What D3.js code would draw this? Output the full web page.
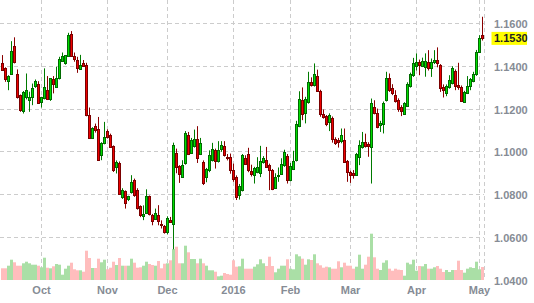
<!DOCTYPE html>
<html>
<head>
<meta charset="utf-8">
<script src="https://cdn.jsdelivr.net/npm/d3@7"></script>
<style>
html,body{margin:0;padding:0;background:#fff;}
svg{display:block;}
text{font-family:"Liberation Sans",Arial,sans-serif;font-weight:bold;}
</style>
</head>
<body>
<svg id="chart" width="534" height="303"></svg>
<script>
// ---- data (trading days, mid-Sep 2015 to 3 May 2016) ----
const openP = [1.1413,1.1390,1.1332,1.1362,1.1494,1.1363,1.1265,1.1192,1.1254,1.1242,
1.1254,1.1307,1.1319,1.1235,1.1251,1.1288,1.1246,1.1338,1.1301,1.1343,
1.1425,1.1416,1.1447,1.1550,1.1447,1.1429,1.1388,1.1416,1.1404,1.1171,
1.1067,1.1120,1.1109,1.0984,1.1042,1.1096,1.1078,1.1026,1.0927,1.0949,
1.0787,1.0816,1.0780,1.0813,1.0867,1.0824,1.0746,1.0701,1.0715,1.0792,
1.0704,1.0688,1.0707,1.0665,1.0654,1.0626,1.0683,1.0665,1.0995,1.0933,
1.0883,1.0948,1.1081,1.0995,1.1026,1.1058,1.0989,1.0953,1.0883,1.0914,
1.0961,1.1008,1.0958,1.1011,1.1026,1.0976,1.0976,1.0914,1.0883,1.0798,
1.0821,1.0972,1.0992,1.0909,1.0894,1.0906,1.0902,1.0953,1.0961,1.0937,
1.0914,1.0833,1.0886,1.0898,1.0937,1.0980,1.0867,1.0922,1.0961,1.1120,
1.1241,1.1182,1.1234,1.1324,1.1312,1.1354,1.1284,1.1179,1.1167,1.1140,
1.1156,1.1062,1.1054,1.1050,1.1054,1.0958,1.0906,1.0903,1.0894,1.0977,
1.1023,1.1047,1.1039,1.1023,1.1210,1.1182,1.1125,1.1132,1.1242,1.1343,
1.1296,1.1265,1.1242,1.1210,1.1179,1.1215,1.1309,1.1358,1.1400,1.1418,
1.1400,1.1397,1.1420,1.1390,1.1420,1.1428,1.1405,1.1304,1.1273,1.1304,
1.1322,1.1378,1.1312,1.1301,1.1234,1.1276,1.1307,1.1332,1.1363,1.1468,
1.1545];
const highP = [1.1452,1.1395,1.1358,1.1517,1.1535,1.1385,1.1268,1.1284,1.1366,1.1281,
1.1319,1.1338,1.1330,1.1257,1.1390,1.1354,1.1343,1.1354,1.1397,1.1444,
1.1464,1.1452,1.1556,1.1564,1.1464,1.1444,1.1453,1.1429,1.1416,1.1207,
1.1115,1.1132,1.1163,1.1045,1.1140,1.1105,1.1085,1.1030,1.0960,1.0955,
1.0830,1.0820,1.0795,1.0891,1.0875,1.0830,1.0750,1.0750,1.0825,1.0796,
1.0710,1.0735,1.0751,1.0680,1.0658,1.0699,1.0696,1.1043,1.1015,1.0938,
1.0961,1.1097,1.1093,1.1065,1.1104,1.1120,1.1065,1.0960,1.0925,1.1007,
1.1042,1.1015,1.1050,1.1050,1.1050,1.0990,1.0992,1.0945,1.0890,1.0850,
1.0990,1.0984,1.1019,1.0940,1.0930,1.0975,1.1028,1.0980,1.1023,1.0945,
1.0920,1.0900,1.0927,1.0970,1.1010,1.0990,1.0948,1.1005,1.1145,1.1283,
1.1301,1.1257,1.1374,1.1348,1.1413,1.1384,1.1290,1.1198,1.1172,1.1180,
1.1165,1.1068,1.1065,1.1109,1.1109,1.0962,1.0912,1.0915,1.0995,1.1054,
1.1093,1.1085,1.1045,1.1249,1.1241,1.1202,1.1145,1.1235,1.1374,1.1366,
1.1316,1.1288,1.1250,1.1218,1.1232,1.1325,1.1370,1.1439,1.1460,1.1431,
1.1440,1.1460,1.1475,1.1436,1.1475,1.1488,1.1410,1.1315,1.1315,1.1358,
1.1400,1.1385,1.1416,1.1310,1.1285,1.1354,1.1345,1.1374,1.1476,1.1545,
1.1631];
const lowP = [1.1379,1.1327,1.1288,1.1360,1.1413,1.1249,1.1187,1.1179,1.1245,1.1187,
1.1218,1.1299,1.1226,1.1207,1.1245,1.1242,1.1238,1.1273,1.1299,1.1338,
1.1421,1.1407,1.1444,1.1444,1.1421,1.1369,1.1385,1.1397,1.1166,1.1062,
1.1060,1.1090,1.0958,1.0961,1.1035,1.1062,1.1020,1.0906,1.0899,1.0800,
1.0780,1.0735,1.0770,1.0805,1.0790,1.0730,1.0695,1.0681,1.0710,1.0703,
1.0657,1.0684,1.0657,1.0642,1.0618,1.0615,1.0668,1.0545,1.0900,1.0855,
1.0880,1.0940,1.0985,1.0990,1.1020,1.0948,1.0985,1.0845,1.0858,1.0905,
1.0955,1.0922,1.0950,1.1000,1.0978,1.0960,1.0898,1.0860,1.0775,1.0777,
1.0815,1.0940,1.0905,1.0885,1.0852,1.0900,1.0882,1.0945,1.0955,1.0821,
1.0821,1.0828,1.0860,1.0893,1.0930,1.0852,1.0862,1.0915,1.0955,1.1115,
1.1148,1.1133,1.1225,1.1305,1.1305,1.1280,1.1164,1.1155,1.1120,1.1097,
1.1043,1.1032,1.1020,1.1040,1.0950,1.0860,1.0855,1.0875,1.0890,1.0938,
1.1015,1.1020,1.0977,1.0852,1.1175,1.1110,1.1093,1.1086,1.1235,1.1280,
1.1265,1.1230,1.1187,1.1167,1.1179,1.1210,1.1300,1.1350,1.1380,1.1358,
1.1396,1.1351,1.1380,1.1350,1.1410,1.1395,1.1280,1.1254,1.1260,1.1295,
1.1315,1.1288,1.1290,1.1233,1.1232,1.1270,1.1288,1.1325,1.1355,1.1462,
1.1520];
const closeP = [1.1382,1.1338,1.1354,1.1471,1.1421,1.1257,1.1195,1.1281,1.1291,1.1257,
1.1299,1.1330,1.1229,1.1254,1.1301,1.1245,1.1343,1.1315,1.1343,1.1436,
1.1447,1.1452,1.1545,1.1447,1.1433,1.1390,1.1404,1.1402,1.1171,1.1067,
1.1111,1.1101,1.0961,1.1042,1.1070,1.1070,1.1023,1.0917,1.0953,1.0805,
1.0821,1.0763,1.0792,1.0860,1.0797,1.0738,1.0707,1.0710,1.0796,1.0711,
1.0677,1.0716,1.0677,1.0656,1.0626,1.0691,1.0673,1.1031,1.0930,1.0895,
1.0938,1.1089,1.0992,1.1054,1.1058,1.0972,1.1042,1.0855,1.0922,1.0984,
1.1011,1.0958,1.1008,1.1031,1.0984,1.0969,1.0914,1.0871,1.0790,1.0839,
1.0984,1.0945,1.0914,1.0898,1.0925,1.0930,1.0956,1.0972,1.0930,1.0917,
1.0828,1.0883,1.0894,1.0945,1.0999,1.0867,1.0933,1.0956,1.1132,1.1249,
1.1179,1.1249,1.1324,1.1312,1.1363,1.1285,1.1175,1.1164,1.1129,1.1171,
1.1058,1.1042,1.1047,1.1078,1.0953,1.0906,1.0894,1.0894,1.0988,1.1031,
1.1047,1.1028,1.1026,1.1229,1.1182,1.1117,1.1137,1.1226,1.1346,1.1288,
1.1273,1.1238,1.1200,1.1192,1.1226,1.1319,1.1362,1.1413,1.1421,1.1405,
1.1425,1.1425,1.1394,1.1420,1.1431,1.1413,1.1296,1.1291,1.1307,1.1335,
1.1394,1.1307,1.1304,1.1238,1.1280,1.1307,1.1338,1.1363,1.1468,1.1534,
1.1530];
const volume = [11.7,11.7,14.3,20.3,17.7,14.3,14.3,16.7,18.3,16.7,
15.3,15.3,14.3,12.7,22.3,12.3,11.7,13.7,16.0,15.3,
5.3,11.3,14.3,17.3,10.7,9.7,9.7,8.3,29.3,22.0,
12.0,12.0,21.3,17.7,20.3,10.7,12.3,18.3,15.0,22.0,
14.3,14.3,14.3,21.3,17.3,12.3,12.7,14.3,18.3,16.0,
15.0,14.3,19.0,11.7,16.3,16.7,19.7,31.0,33.3,16.7,
16.7,34.3,27.7,21.0,21.0,16.7,21.3,16.7,14.3,9.7,
9.7,8.3,3.7,4.3,7.0,6.0,5.3,19.7,13.3,13.7,
21.3,11.3,11.3,11.3,13.3,15.7,20.7,16.7,14.0,23.3,
14.0,7.7,11.3,14.3,14.3,20.7,11.3,10.7,25.7,23.7,
21.3,15.3,20.7,20.0,25.7,16.7,14.7,12.3,13.3,12.7,
11.3,11.3,18.7,12.7,17.3,14.3,14.3,11.3,13.3,25.3,
11.3,15.3,23.3,46.3,22.7,11.3,10.0,17.3,19.7,11.3,
9.3,11.3,10.3,10.0,4.3,17.3,15.7,20.3,9.3,14.0,
13.7,16.0,11.3,11.3,12.7,14.0,11.3,8.0,10.0,8.0,
10.0,10.0,19.3,10.0,7.3,11.3,12.7,12.0,18.3,10.7,
13.0];
const monthTickIndex = [13,35,55,77,96,116,138,159];
const monthLabels = ["Oct","Nov","Dec","2016","Feb","Mar","Apr","May"];
const priceTicks = [1.04,1.06,1.08,1.10,1.12,1.14,1.16];
const lastPriceLabel = "1.1530";

// ---- drawing ----
const svg = d3.select("#chart");
const W = 534, H = 303;
const plotRight = 484, plotBottom = 280;
const n = openP.length;
const idx = d3.range(n);

const x = d3.scaleBand().domain(idx).range([1, plotRight]).paddingInner(0).paddingOuter(0);
const step = x.step();
const y = d3.scaleLinear().domain([1.04, 1.16]).range([280.3, 23.4]);
const vy = d3.scaleLinear().domain([0, 50]).range([plotBottom, plotBottom - 50]);

const gridColor = "#cccccc";
const grid = svg.append("g");
// horizontal grid
grid.selectAll("line.h").data(priceTicks.filter(t => t > 1.045)).enter().append("line")
  .attr("x1", 0).attr("x2", plotRight)
  .attr("y1", d => Math.floor(y(d)) + 0.5).attr("y2", d => Math.floor(y(d)) + 0.5)
  .attr("stroke", gridColor).attr("stroke-width", 1).attr("stroke-dasharray", "4,3");
// vertical grid
grid.selectAll("line.v").data(monthTickIndex).enter().append("line")
  .attr("x1", d => x(d) + step / 2).attr("x2", d => x(d) + step / 2)
  .attr("y1", 0).attr("y2", plotBottom)
  .attr("stroke", gridColor).attr("stroke-width", 1).attr("stroke-dasharray", "4,3");
grid.append("line")
  .attr("x1", plotRight + 0.5).attr("x2", plotRight + 0.5).attr("y1", 0).attr("y2", plotBottom)
  .attr("stroke", gridColor).attr("stroke-width", 1).attr("stroke-dasharray", "4,3");

// volume
svg.append("g").selectAll("rect").data(idx).enter().append("rect")
  .attr("x", i => x(i)).attr("width", step)
  .attr("y", i => vy(volume[i])).attr("height", i => plotBottom - vy(volume[i]))
  .attr("fill", i => closeP[i] >= openP[i] ? "#aadfa6" : "#ffbdbd");

// candles
const up = i => closeP[i] >= openP[i];
const cg = svg.append("g");
cg.selectAll("line").data(idx).enter().append("line")
  .attr("x1", i => x(i) + step / 2).attr("x2", i => x(i) + step / 2)
  .attr("y1", i => y(highP[i])).attr("y2", i => y(lowP[i]))
  .attr("stroke", i => up(i) ? "#007a00" : "#8a0000").attr("stroke-width", 1);
cg.selectAll("rect").data(idx).enter().append("rect")
  .attr("x", i => x(i) + 0.5).attr("width", step - 1)
  .attr("y", i => Math.round(y(Math.max(openP[i], closeP[i]))) + 0.5)
  .attr("height", i => Math.max(1, Math.round(y(Math.min(openP[i], closeP[i]))) - Math.round(y(Math.max(openP[i], closeP[i])))))
  .attr("fill", i => up(i) ? "#00dd00" : "#ee0000")
  .attr("stroke", i => up(i) ? "#006a00" : "#7a0000").attr("stroke-width", 1);

// y axis (right)
const yAxis = d3.axisRight(y).tickValues(priceTicks).tickFormat(d3.format(".4f")).tickSize(0).tickPadding(10);
const ya = svg.append("g").attr("transform", `translate(${plotRight},0)`).call(yAxis);
ya.select(".domain").remove();
ya.selectAll("text").attr("font-size", 11).attr("fill", "#868c95")
  .attr("font-family", "'Liberation Sans', Arial, sans-serif").attr("font-weight", "bold")
  .attr("dy", "0.36em");

// x axis
const xAxis = d3.axisBottom(x).tickValues(monthTickIndex).tickFormat((d, k) => monthLabels[k]).tickSize(0).tickPadding(6);
const xa = svg.append("g").attr("transform", `translate(0,${plotBottom})`).call(xAxis);
xa.select(".domain").remove();
xa.selectAll("text").attr("font-size", 11).attr("fill", "#868c95")
  .attr("font-family", "'Liberation Sans', Arial, sans-serif").attr("font-weight", "bold");

// last price label
const lastY = y(closeP[n - 1]);
svg.append("rect").attr("x", 491.5).attr("y", lastY - 6.5).attr("width", 35.5).attr("height", 13)
  .attr("fill", "#ffff00");
svg.append("text").attr("x", plotRight + 10).attr("y", lastY).attr("dy", "0.36em")
  .attr("font-size", 11).attr("fill", "#222").text(lastPriceLabel);
</script>
</body>
</html>
